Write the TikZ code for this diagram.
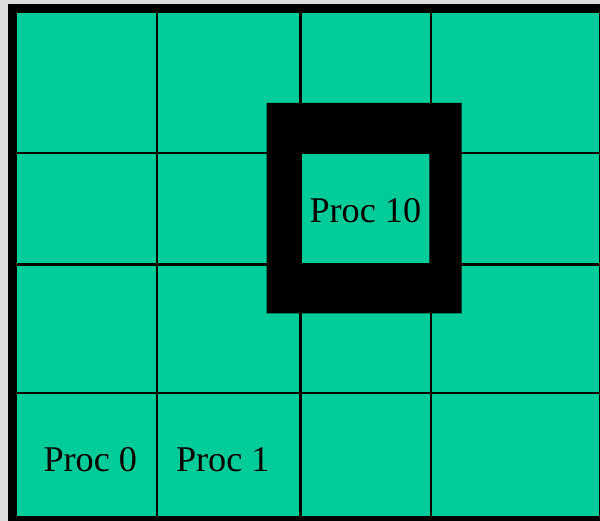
\documentclass[tikz,border=0pt]{standalone}
\usepackage{fontspec}
\setmainfont{Liberation Serif}
\definecolor{gridgreen}{RGB}{0,204,153}
\definecolor{bggray}{RGB}{221,221,221}
\begin{document}
\begin{tikzpicture}[x=1pt,y=-1pt,
  gridline/.style={line width=2.4pt,black},
  lbl/.style={font=\fontsize{36.2}{40}\selectfont, inner sep=0pt, anchor=base}]
\useasboundingbox (0,0) rectangle (600,521);
\fill[bggray] (0,0) rectangle (600,521);
\fill[black] (7.5,4) rectangle (600,521);
\fill[gridgreen] (17,13) rectangle (599,515.7);
% grid
\foreach \gx in {157,300.5,431} \draw[gridline] (\gx,13) -- (\gx,515.7);
\foreach \gy in {153,264.5,393} \draw[gridline] (17,\gy) -- (599,\gy);
% highlight frame
\fill[black,even odd rule] (266.7,103) rectangle (461.7,313.3) (301.7,153.3) rectangle (429.3,263.3);
% labels
\node[lbl] (p10) at (365.3,223) {Proc 10};
\node[lbl] (p0) at (90.3,471.5) {Proc 0};
\node[lbl] (p1) at (222.8,471.5) {Proc 1};
\end{tikzpicture}
\end{document}
